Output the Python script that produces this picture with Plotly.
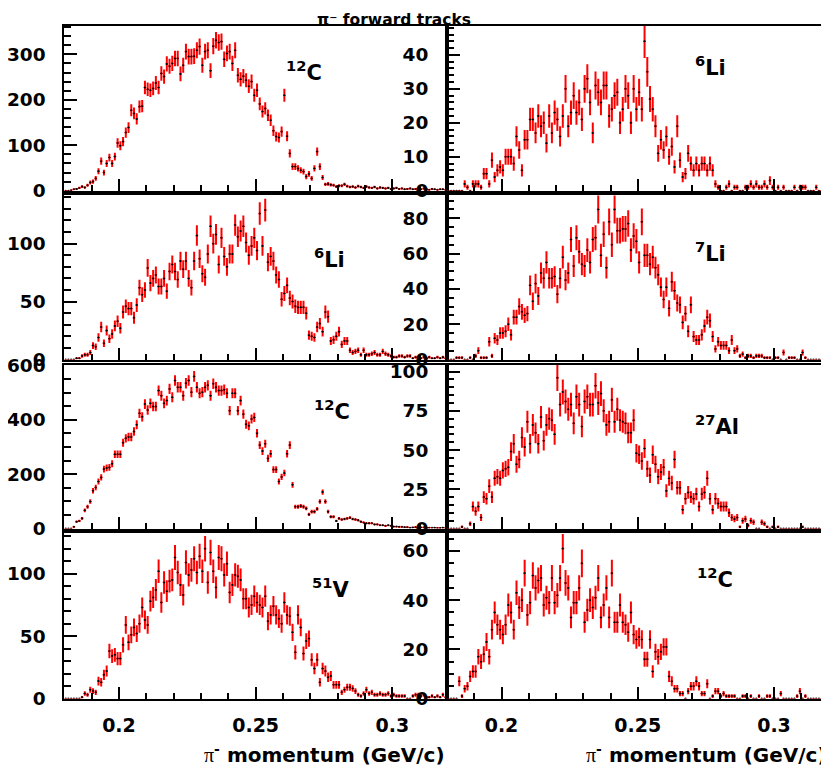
import math
import plotly.graph_objects as go

# histogram binning (GeV/c)
BIN_LO = 0.18
BIN_W = 0.001

# counts per 1 MeV/c bin (140 bins, 0.18 - 0.32)
c12_top = [
    0, 0, 1, 3, 4, 6, 9, 7, 12, 18,
    20, 27, 43, 65, 40, 60, 73, 60, 75, 105,
    99, 108, 128, 139, 177, 170, 158, 185, 186, 227,
    223, 221, 225, 237, 227, 258, 251, 279, 274, 280,
    291, 291, 257, 276, 306, 295, 295, 296, 309, 317,
    276, 306, 309, 264, 318, 331, 326, 328, 289, 302,
    306, 280, 309, 254, 245, 252, 243, 230, 240, 210,
    221, 191, 174, 181, 166, 155, 132, 119, 117, 130,
    210, 120, 82, 53, 53, 49, 45, 42, 31, 37,
    27, 49, 86, 53, 29, 14, 15, 13, 12, 9,
    11, 11, 14, 10, 8, 9, 7, 10, 8, 6,
    9, 7, 6, 8, 5, 7, 6, 5, 6, 4,
    5, 6, 4, 5, 3, 4, 5, 3, 4, 4,
    3, 5, 3, 2, 4, 3, 2, 3, 3, 2,
]
li6_top = [
    0, 0, 0, 0, 0, 0, 2, 1, 0, 2,
    2, 2, 1, 5, 5, 2, 9, 4, 6, 7,
    6, 10, 10, 10, 8, 16, 12, 6, 15, 15,
    21, 21, 17, 22, 19, 20, 14, 22, 17, 23,
    21, 16, 22, 30, 19, 23, 28, 23, 26, 21,
    30, 33, 26, 17, 31, 29, 26, 31, 31, 22,
    24, 28, 29, 20, 24, 30, 28, 20, 30, 24,
    29, 24, 44, 35, 27, 24, 19, 11, 15, 12,
    16, 10, 13, 7, 19, 9, 4, 5, 11, 8,
    6, 8, 6, 8, 8, 6, 8, 6, 2, 1,
    0, 0, 1, 2, 0, 1, 1, 0, 0, 1,
    1, 2, 1, 2, 1, 1, 2, 1, 3, 1,
    0, 1, 0, 1, 0, 0, 0, 1, 0, 1,
    1, 1, 0, 0, 0, 1, 0, 0, 0, 0,
]
li6_b = [
    0, 0, 0, 0, 1, 1, 3, 4, 4, 6,
    12, 11, 19, 28, 14, 25, 18, 22, 29, 33,
    27, 41, 46, 44, 44, 36, 47, 62, 56, 60,
    79, 66, 70, 73, 63, 63, 70, 59, 76, 82,
    76, 69, 85, 78, 85, 70, 62, 85, 107, 87,
    74, 71, 91, 115, 100, 108, 82, 105, 89, 80,
    91, 91, 116, 106, 111, 115, 101, 90, 98, 105,
    94, 126, 98, 129, 84, 89, 85, 73, 69, 52,
    57, 64, 53, 50, 46, 45, 45, 45, 40, 21,
    20, 19, 28, 31, 24, 41, 37, 16, 17, 20,
    24, 13, 16, 16, 8, 6, 7, 8, 4, 8,
    4, 4, 5, 6, 4, 4, 7, 5, 4, 3,
    2, 2, 3, 3, 2, 3, 3, 1, 2, 2,
    1, 2, 1, 2, 1, 1, 2, 1, 2, 1,
]
li7 = [
    0, 0, 0, 1, 1, 1, 0, 0, 1, 0,
    2, 5, 1, 1, 1, 10, 2, 12, 11, 15,
    15, 16, 20, 14, 24, 24, 30, 27, 25, 26,
    42, 33, 43, 36, 49, 46, 55, 46, 46, 47,
    37, 46, 58, 45, 49, 68, 53, 69, 61, 54,
    53, 62, 55, 68, 69, 85, 59, 71, 52, 78,
    65, 85, 73, 73, 74, 74, 77, 62, 70, 67,
    55, 78, 59, 59, 54, 58, 52, 48, 41, 34,
    41, 29, 44, 39, 32, 31, 21, 26, 16, 31,
    13, 11, 11, 14, 19, 24, 22, 13, 6, 10,
    8, 8, 8, 5, 11, 5, 6, 2, 3, 1,
    2, 2, 1, 2, 2, 2, 1, 1, 1, 0,
    1, 1, 0, 4, 0, 1, 1, 1, 0, 0,
    4, 1, 0, 0, 0, 0, 0, 0, 1, 1,
]
c12_b = [
    0, 0, 0, 6, 25, 28, 37, 67, 80, 99,
    139, 151, 173, 188, 219, 223, 225, 238, 273, 273,
    273, 316, 332, 337, 337, 357, 382, 424, 411, 458,
    436, 461, 449, 449, 508, 489, 461, 471, 514, 483,
    545, 520, 520, 489, 535, 545, 502, 560, 520, 498,
    502, 520, 527, 489, 533, 520, 508, 508, 511, 498,
    434, 498, 498, 434, 471, 421, 384, 378, 403, 409,
    351, 307, 285, 312, 258, 275, 217, 217, 173, 190,
    204, 275, 307, 161, 80, 80, 83, 80, 74, 52,
    62, 62, 72, 99, 134, 99, 62, 43, 43, 28,
    37, 33, 35, 37, 40, 35, 33, 30, 25, 22,
    19, 19, 19, 15, 15, 12, 12, 10, 12, 10,
    7, 7, 6, 6, 5, 5, 3, 4, 5, 6,
    4, 4, 3, 3, 3, 3, 2, 2, 3, 2,
]
al27 = [
    0, 0, 0, 0, 0, 1, 0, 0, 3, 14,
    11, 14, 7, 20, 19, 27, 20, 32, 33, 32,
    37, 38, 39, 49, 54, 41, 44, 58, 52, 68,
    54, 66, 61, 54, 71, 56, 66, 70, 69, 60,
    96, 79, 87, 81, 76, 79, 67, 84, 79, 65,
    81, 84, 79, 79, 91, 80, 86, 75, 66, 68,
    82, 68, 76, 69, 68, 67, 61, 61, 69, 48,
    47, 43, 51, 38, 34, 47, 41, 33, 36, 39,
    24, 32, 29, 44, 26, 26, 12, 19, 23, 20,
    19, 22, 14, 22, 23, 32, 19, 12, 19, 16,
    14, 14, 14, 10, 7, 6, 7, 1, 5, 6,
    2, 5, 4, 0, 0, 4, 3, 1, 0, 1,
    0, 1, 0, 0, 0, 0, 0, 0, 0, 0,
    1, 0, 0, 0, 0, 0, 0, 0, 0, 0,
]
v51 = [
    0, 0, 0, 0, 0, 0, 1, 4, 3, 7,
    6, 5, 14, 13, 19, 22, 38, 34, 35, 32,
    32, 43, 59, 45, 51, 57, 52, 60, 73, 63,
    59, 78, 81, 87, 102, 77, 93, 86, 94, 95,
    113, 101, 91, 83, 109, 99, 103, 112, 101, 114,
    102, 120, 93, 117, 102, 89, 113, 112, 99, 108,
    85, 91, 99, 98, 95, 80, 80, 73, 75, 82,
    77, 75, 73, 82, 62, 67, 74, 67, 64, 60,
    77, 67, 66, 53, 37, 67, 57, 36, 46, 48,
    31, 24, 31, 13, 24, 22, 17, 18, 11, 11,
    11, 5, 7, 9, 9, 8, 6, 3, 2, 4,
    7, 4, 5, 3, 3, 4, 3, 3, 4, 2,
    3, 2, 2, 2, 2, 0, 0, 2, 3, 3,
    2, 3, 1, 1, 2, 1, 2, 1, 3, 1,
]
c12_c = [
    0, 0, 0, 0, 7, 1, 4, 5, 9, 11,
    11, 17, 15, 18, 23, 17, 28, 35, 30, 28,
    26, 30, 38, 35, 28, 43, 37, 40, 51, 34,
    39, 50, 45, 48, 49, 38, 41, 39, 49, 39,
    42, 49, 61, 47, 45, 33, 39, 39, 45, 55,
    31, 36, 40, 37, 41, 49, 33, 38, 45, 33,
    51, 31, 31, 38, 31, 30, 27, 35, 26, 24,
    25, 24, 16, 16, 24, 11, 19, 17, 19, 21,
    21, 9, 7, 4, 4, 2, 2, 0, 3, 5,
    5, 7, 5, 2, 2, 6, 0, 1, 3, 3,
    1, 2, 1, 1, 1, 1, 0, 0, 1, 1,
    0, 1, 0, 0, 1, 0, 0, 1, 1, 0,
    0, 0, 2, 0, 0, 0, 0, 0, 1, 3,
    0, 1, 0, 0, 0, 0, 0, 0, 0, 0,
]

# panel order: row by row, left then right
panels = [c12_top, li6_top, li6_b, li7, c12_b, al27, v51, c12_c]
labels = ['<sup>12</sup>C', '<sup>6</sup>Li', '<sup>6</sup>Li', '<sup>7</sup>Li',
          '<sup>12</sup>C', '<sup>27</sup>Al', '<sup>51</sup>V', '<sup>12</sup>C']
# error = sqrt(k * content), k
err_k = [1.0, 0.55, 0.74, 0.73, 0.7, 0.72, 0.88, 0.58]
y_max = [363, 48.6, 142, 93.2, 602, 104.2, 132.4, 67.2]
y_dtick = [100, 10, 50, 20, 200, 25, 50, 20]
y_minor = [20, 2, 10, 5, 50, 5, 10, 5]

# the page has an 8px body margin; positions below are window pixels
OFF = 8
W, H = 829, 770


def px(x):
    return (x - OFF) / W


def py(y):
    return 1 - (y - OFF) / H


col_px = [(64.3, 447.0), (447.0, 828.5)]
row_px = [(25.7, 190.7), (195.0, 359.5), (365.0, 528.5), (533.3, 698.5)]
label_pos = [(284, 71), (693, 66), (312, 258), (693, 252),
             (312, 410), (693, 425), (310, 588), (695, 578)]

font_x = dict(family='DejaVu Sans', size=19, color='black', weight='bold')
font_y = dict(family='DejaVu Sans', size=18.5, color='black', weight='bold')

fig = go.Figure()
layout = {}
for k, vals in enumerate(panels):
    row, col = k // 2, k % 2
    sx = '' if k == 0 else str(k + 1)
    centers = [BIN_LO + BIN_W * (i + 0.5) for i in range(len(vals))]
    errs = [math.sqrt(err_k[k] * v) for v in vals]
    fig.add_trace(go.Scatter(
        x=centers, y=vals, xaxis='x' + sx, yaxis='y' + sx,
        mode='markers',
        marker=dict(color='black', size=2),
        error_y=dict(type='data', array=errs, color='red', thickness=2, width=0),
        error_x=dict(type='constant', value=BIN_W / 2, color='red', thickness=1.2, width=0),
    ))
    x0, x1 = col_px[col]
    t, b = row_px[row]
    bottom = row == 3
    layout['xaxis' + sx] = dict(
        domain=[px(x0), px(x1)], range=[0.18, 0.32], anchor='y' + sx,
        tickvals=[0.2, 0.25, 0.3], ticktext=['0.2', '0.25', '0.3'],
        showticklabels=bottom, tickfont=font_x, ticklabelstandoff=9,
        ticks='inside', ticklen=12, tickwidth=1.5, tickcolor='black',
        minor=dict(tickmode='linear', tick0=0.18, dtick=0.01, ticks='inside',
                   ticklen=6, tickwidth=1.5, tickcolor='black', showgrid=False),
        showline=True, linewidth=2, linecolor='black', mirror=True,
        showgrid=False, zeroline=False,
    )
    layout['yaxis' + sx] = dict(
        domain=[py(b), py(t)], range=[0, y_max[k]], anchor='x' + sx,
        tick0=0, dtick=y_dtick[k], tickfont=font_y, ticklabelstandoff=13,
        ticks='inside', ticklen=13, tickwidth=1.5, tickcolor='black',
        minor=dict(tick0=0, dtick=y_minor[k], ticks='inside', ticklen=7,
                   tickwidth=1.5, tickcolor='black', showgrid=False),
        showline=True, linewidth=2, linecolor='black', mirror=True,
        showgrid=False, zeroline=False,
    )

annotations = []
for k, txt in enumerate(labels):
    lx, ly = label_pos[k]
    annotations.append(dict(
        text=txt, xref='paper', yref='paper', x=px(lx), y=py(ly),
        xanchor='left', yanchor='middle', showarrow=False,
        font=dict(family='DejaVu Sans', size=21, color='black', weight='bold'),
    ))

x_title = ('<span style="font-family:Liberation Serif;font-weight:normal">π</span>'
           '<sup>-</sup> momentum (GeV/c)')
for x0, x1 in col_px:
    annotations.append(dict(
        text=x_title, xref='paper', yref='paper', x=px(x1), y=py(754),
        xanchor='right', yanchor='middle', showarrow=False,
        font=dict(family='DejaVu Sans', size=20, color='black', weight='bold'),
    ))

# overall title, kept just inside the top edge
annotations.append(dict(
    text='π⁻ forward tracks', xref='paper', yref='paper',
    x=px(393.5), y=py(8.5), xanchor='center', yanchor='top', showarrow=False,
    font=dict(family='DejaVu Sans', size=15.5, color='black', weight='bold'),
))

fig.update_layout(
    width=W, height=H,
    margin=dict(l=0, r=0, t=0, b=0, autoexpand=False),
    paper_bgcolor='white', plot_bgcolor='rgba(0,0,0,0)',
    showlegend=False,
    font=font_x,
    annotations=annotations,
    **layout,
)

fig.write_html('out.html')
